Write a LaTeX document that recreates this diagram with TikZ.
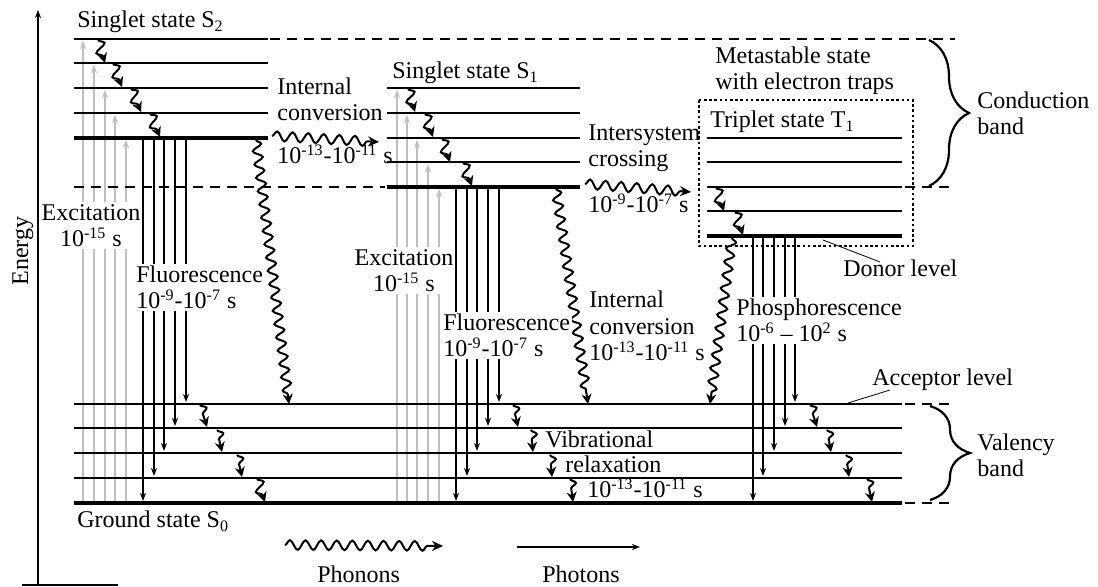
\documentclass[tikz,border=0pt]{standalone}
\usepackage{fontspec}
\setmainfont{Liberation Serif}
\usetikzlibrary{arrows.meta,decorations.pathmorphing,decorations.pathreplacing}
\tikzset{
	lvl/.style={line width=1.15pt},
	lvlgs/.style={line width=2.2pt},
	lvldash/.style={line width=1.15pt,dash pattern=on 5pt off 3.5pt},
	exc/.style={draw=black!25,line width=0.75pt,->},
	fl/.style={line width=0.75pt,->},
	vib/.style={line width=1pt,decorate,decoration={snake,segment length=7.5pt,amplitude=2.7pt,post length=3.5pt},-{Stealth[length=5pt,width=5pt]}},
	icv/.style={line width=1pt,decorate,decoration={snake,segment length=6.7pt,amplitude=2.3pt,post length=4pt},-{Stealth[length=5pt,width=5pt]}},
	ich/.style={line width=1pt,decorate,decoration={snake,segment length=7.8pt,amplitude=2.4pt,post length=4pt},-{Stealth[length=5.5pt,width=5pt]}},
	txt/.style={font=\fontsize{12}{13.4}\selectfont,inner sep=0pt,align=left},
	wtxt/.style={txt,fill=white,inner sep=1pt},
	bandbrace/.style={line width=1.1pt,decorate,decoration={brace,amplitude=20pt}},
	leader/.style={line width=0.4pt},
}
\begin{document}
\begin{tikzpicture}[x=0.5pt,y=-0.5pt,>={Stealth[length=4pt,width=3pt]}]
	\useasboundingbox (0,0) rectangle (1098,587);
	% energy axis
	\draw[line width=0.7pt,->] (38,585)--(38,10);
	\draw[line width=1.2pt] (22,585)--(118,585);
	\node[txt,rotate=90,anchor=base] (energy) at (28,251) {Energy};
	% excitation
	\foreach \x/\y in {83/39,94/63,105/88,115/113,126/138,397/88,407/113,417/138,428/162,439/187}
		\draw[exc] (\x,503)--(\x,\y+2);
	% levels
	\foreach \y in {39,63,88,113} \draw[lvl] (74,\y)--(268,\y);
	\draw[lvlgs] (74,138)--(268,138);
	\foreach \y in {88,113,138,162} \draw[lvl] (387,\y)--(580,\y);
	\draw[lvlgs] (387,187)--(580,187);
	\foreach \y in {138,162,187,211} \draw[lvl] (707,\y)--(902,\y);
	\draw[lvlgs] (707,236)--(902,236);
	\foreach \y in {404,428,453,478} \draw[lvl] (74,\y)--(902,\y);
	\draw[lvlgs] (74,503)--(902,503);
	\draw[lvldash] (270,39)--(955,39) (74,187)--(385,187) (905,187)--(955,187) (905,404)--(955,404) (905,503)--(955,503);
	\draw[line width=1.2pt,dash pattern=on 1.3pt off 1.3pt] (699,100) rectangle (913,246);
	% fluorescence, phosphorescence
	\foreach \x/\y in {143/503,154/478,164/453,175/428,186/404} \draw[fl] (\x,138)--(\x,\y-2);
	\foreach \x/\y in {456/503,467/478,477/453,488/428,499/404} \draw[fl] (\x,187)--(\x,\y-2);
	\foreach \x/\y in {753/503,763/478,774/453,785/428,795/404} \draw[fl] (\x,236)--(\x,\y-2);
	% vibrational relaxation
	\foreach \a/\b/\c/\d in {98/40/105/63,113/64/122/87,131/89/141/112,150/114/160/137,
		408/89/415/112,425/114/433/137,442/139/450/162,463/163/472/186,
		716/188/724/211,735/212/743/235,
		200/405/207/427,217/430/222/452,237/455/242/477,257/479/265/502,
		513/405/518/427,531/430/533/452,550/455/552/477,570/479/573/502,
		810/405/817/427,827/430/831/452,846/455/849/477,867/479/872/502}
		\draw[vib] (\a,\b)--(\c,\d);
	% internal conversion, intersystem crossing
	\draw[icv] (256,140)--(289,404);
	\draw[icv] (556,189)--(588,404);
	\draw[icv] (732,238)--(710,404);
	\draw[ich] (272,136)--(379,142);
	\draw[ich] (585,184)--(691,192);
	% braces
	\draw[bandbrace] (929,40)--(929,186);
	\draw[bandbrace] (930,406)--(930,500);
	% leaders
	\draw[leader] (823,240)--(880,262);
	\draw[leader] (848,403)--(890,390);
	% labels
	\node[txt,anchor=base west] (s2) at (77,28) {Singlet state S\textsubscript{2}};
	\node[txt,anchor=base west] (s1) at (392,79) {Singlet state S\textsubscript{1}};
	\node[txt,anchor=base west] (t1) at (710,128) {Triplet state T\textsubscript{1}};
	\node[txt,anchor=base west] (s0) at (77,528) {Ground state S\textsubscript{0}};
	\node[txt,anchor=base west] (ic2) at (277,121) {Internal\\conversion};
	\node[txt,anchor=base west] (ic2t) at (277,164) {10\textsuperscript{-13}-10\textsuperscript{-11} s};
	\node[txt,anchor=base west] (isc) at (588,167) {Intersystem\\crossing};
	\node[txt,anchor=base west] (isct) at (588,213) {10\textsuperscript{-9}-10\textsuperscript{-7} s};
	\node[txt,anchor=base west] (meta) at (715,90) {Metastable state\\with electron traps};
	\node[txt,anchor=base west] (cb) at (977,135) {Conduction\\band};
	\node[txt,anchor=base west] (vb) at (977,477) {Valency\\band};
	\node[wtxt,align=center,anchor=base] (exc2) at (91,247) {Excitation\\10\textsuperscript{-15} s};
	\node[wtxt,align=center,anchor=base] (exc1) at (404,292) {Excitation\\10\textsuperscript{-15} s};
	\node[wtxt,anchor=base west] (fl2) at (134,309) {Fluorescence\\10\textsuperscript{-9}-10\textsuperscript{-7} s};
	\node[wtxt,anchor=base west] (fl1) at (441,357) {Fluorescence\\10\textsuperscript{-9}-10\textsuperscript{-7} s};
	\node[txt,anchor=base west] (ic1) at (589,361) {Internal\\conversion\\10\textsuperscript{-13}-10\textsuperscript{-11} s};
	\node[wtxt,anchor=base west] (phos) at (734,342) {Phosphorescence\\10\textsuperscript{-6} -- 10\textsuperscript{2} s};
	\node[txt,anchor=base west] (donor) at (843,277) {Donor level};
	\node[txt,anchor=base west] (acc) at (872,386) {Acceptor level};
	\node[txt,anchor=base west] (vib1) at (545,448) {Vibrational};
	\node[txt,anchor=base west] (vib2) at (565,473) {relaxation};
	\node[txt,anchor=base west] (vib3) at (587,498) {10\textsuperscript{-13}-10\textsuperscript{-11} s};
	% legend
	\draw[ich] (285,545)--(443,546);
	\draw[fl] (517,547)--(640,547);
	\node[txt,anchor=base west] (phonons) at (317,582) {Phonons};
	\node[txt,anchor=base west] (photons) at (542,582) {Photons};
\end{tikzpicture}
\end{document}
